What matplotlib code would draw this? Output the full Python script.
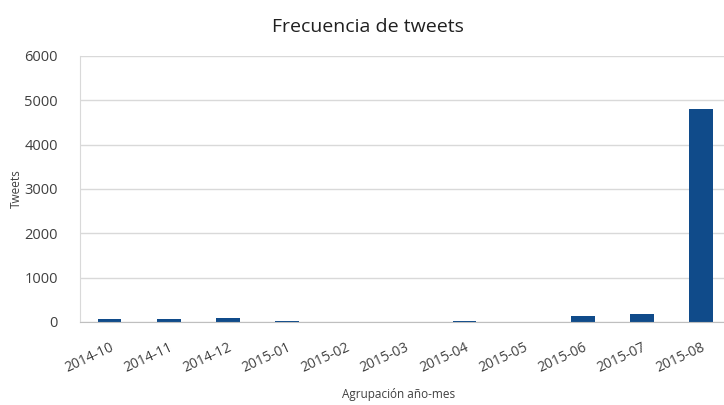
import numpy as np
import matplotlib.pyplot as plt

plt.rcParams['font.family'] = ['Open Sans', 'DejaVu Sans']

meses = ['2014-10', '2014-11', '2014-12', '2015-01', '2015-02', '2015-03',
         '2015-04', '2015-05', '2015-06', '2015-07', '2015-08']
tweets = [60, 60, 80, 15, 0, 0, 15, 0, 140, 180, 4800]
y_ticks = [0, 1000, 2000, 3000, 4000, 5000, 6000]

fig = plt.figure(figsize=(7.24, 4.05), dpi=100)
ax = fig.add_axes([0.1105, 0.205, 0.899, 0.657])

x = np.arange(len(meses))
ax.bar(x, tweets, width=0.4, color='#104B8A', zorder=3)

ax.set_xlim(-0.5, len(meses) - 0.5)
ax.set_ylim(0, 6000)
ax.set_yticks(y_ticks)
ax.set_yticklabels([str(v) for v in y_ticks], fontsize=10.5, color='#404040')
ax.set_xticks(x)
ax.set_xticklabels(meses, rotation=25, ha='right', rotation_mode='anchor',
                   fontsize=10, color='#404040')
ax.tick_params(axis='both', length=0)
ax.tick_params(axis='y', pad=16)
ax.tick_params(axis='x', pad=13)

ax.grid(axis='y', color='#D9D9D9', linewidth=1, zorder=0)
for s in ['top', 'right']:
    ax.spines[s].set_visible(False)
ax.spines['left'].set_color('#D9D9D9')
ax.spines['bottom'].set_color('#BFBFBF')
ax.spines['bottom'].set_zorder(4)

ax.set_ylabel('Tweets', fontsize=8.5, color='#404040')
ax.yaxis.set_label_coords(-0.088, 0.5)
fig.text(0.55, 0.018, 'Agrupación año-mes', ha='center', fontsize=8.5, color='#404040')
fig.text(0.508, 0.92, 'Frecuencia de tweets', ha='center', fontsize=14, color='#202020')

fig.savefig('out.png', dpi=100)
